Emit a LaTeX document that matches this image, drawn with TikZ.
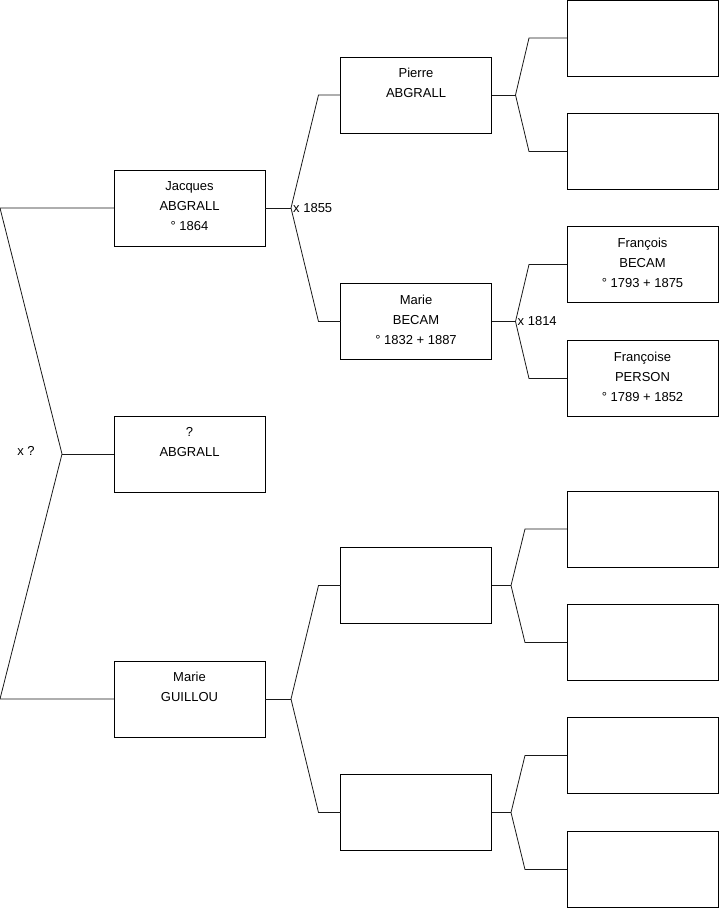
\documentclass[tikz,border=0pt]{standalone}
\usepackage{fontspec}
\setmainfont{Liberation Sans}
\usepackage{tikz}
\usetikzlibrary{positioning, calc}

\begin{document}
\begin{tikzpicture}[x=1pt, y=-1pt,
    person/.style={rectangle, draw=black, line width=0.8pt, fill=white, minimum width=151pt, minimum height=76pt, inner sep=0pt, outer sep=0pt, align=center, font=\fontsize{13}{20}\selectfont, execute at end node={\rule[-4pt]{0pt}{0pt}}},
    link/.style={black!90, line width=0.8pt},
    union/.style={font=\fontsize{13}{15}\selectfont, inner sep=2pt, anchor=west}
]
\useasboundingbox (0,0) rectangle (719,908);

% Generation 1
\node[person] (jacques) at (189.5,208) {Jacques\\ABGRALL\\° 1864};
\node[person] (sibling) at (189.5,454) {?\\ABGRALL\\~};
\node[person] (guillou) at (189.5,699) {Marie\\GUILLOU\\~};

% Generation 2
\node[person] (pierre) at (416,95) {Pierre\\ABGRALL\\~};
\node[person] (becam) at (416,321.5) {Marie\\BECAM\\° 1832 + 1887};
\node[person] (gp-father) at (416,585.5) {};
\node[person] (gp-mother) at (416,812.5) {};

% Generation 3
\node[person] (p-father) at (642.5,38) {};
\node[person] (p-mother) at (642.5,151.5) {};
\node[person] (francois) at (642.5,264.5) {François\\BECAM\\° 1793 + 1875};
\node[person] (francoise) at (642.5,378.5) {Françoise\\PERSON\\° 1789 + 1852};
\node[person] (g-father) at (642.5,529) {};
\node[person] (g-mother) at (642.5,642.5) {};
\node[person] (m-father) at (642.5,755.5) {};
\node[person] (m-mother) at (642.5,869.5) {};

% Fork points
\coordinate (r-top) at (0,208);
\coordinate (r-bot) at (0,699);
\coordinate (f-root) at (62,454);
\coordinate (f-jacques) at (291,208);
\coordinate (f-guillou) at (291,699);
\coordinate (f-pierre) at (515.5,95);
\coordinate (f-becam) at (515.5,321.5);
\coordinate (f-gpf) at (511,585.5);
\coordinate (f-gpm) at (511,812.5);

% Root couple
\draw[link] (jacques.west) -- (r-top) -- (f-root) -- (r-bot) -- (guillou.west);
\draw[link] (f-root) -- (sibling.west);
\node[font=\fontsize{13}{15}\selectfont] (u-root) at (26,451) {x ?};

% Parents of Jacques
\draw[link] (jacques.east) -- (f-jacques);
\draw[link] (f-jacques) -- ([xshift=-22pt]pierre.west) -- (pierre.west);
\draw[link] (f-jacques) -- ([xshift=-22pt]becam.west) -- (becam.west);
\node[union] (u-jacques) at (f-jacques) {x 1855};

% Parents of Marie Guillou
\draw[link] (guillou.east) -- (f-guillou);
\draw[link] (f-guillou) -- ([xshift=-22pt]gp-father.west) -- (gp-father.west);
\draw[link] (f-guillou) -- ([xshift=-22pt]gp-mother.west) -- (gp-mother.west);

% Parents of Pierre
\draw[link] (pierre.east) -- (f-pierre);
\draw[link] (f-pierre) -- ([xshift=-38pt]p-father.west) -- (p-father.west);
\draw[link] (f-pierre) -- ([xshift=-38pt]p-mother.west) -- (p-mother.west);

% Parents of Marie Becam
\draw[link] (becam.east) -- (f-becam);
\draw[link] (f-becam) -- ([xshift=-38pt]francois.west) -- (francois.west);
\draw[link] (f-becam) -- ([xshift=-38pt]francoise.west) -- (francoise.west);
\node[union] (u-becam) at (f-becam) {x 1814};

% Bottom grandparents
\draw[link] (gp-father.east) -- (f-gpf);
\draw[link] (f-gpf) -- ([xshift=-42pt]g-father.west) -- (g-father.west);
\draw[link] (f-gpf) -- ([xshift=-42pt]g-mother.west) -- (g-mother.west);
\draw[link] (gp-mother.east) -- (f-gpm);
\draw[link] (f-gpm) -- ([xshift=-42pt]m-father.west) -- (m-father.west);
\draw[link] (f-gpm) -- ([xshift=-42pt]m-mother.west) -- (m-mother.west);
\end{tikzpicture}
\end{document}
